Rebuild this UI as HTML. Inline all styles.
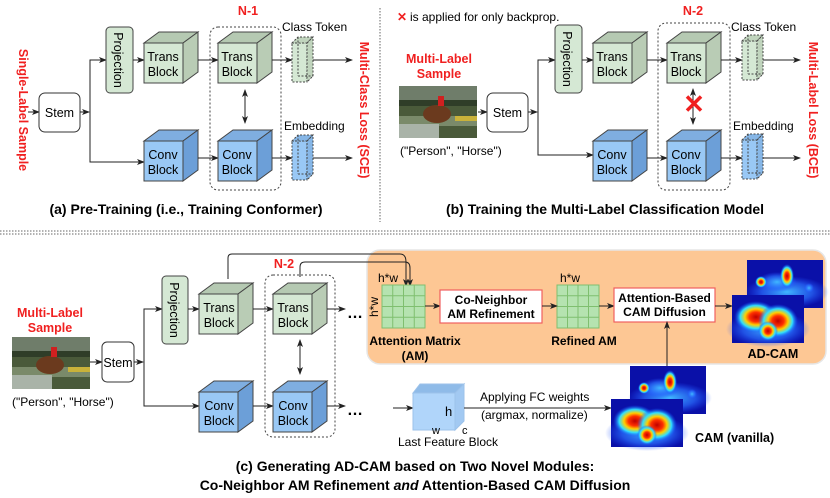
<!DOCTYPE html>
<html><head><meta charset="utf-8"><style>
html,body{margin:0;padding:0;background:#fff;}
svg{display:block;font-family:"Liberation Sans",sans-serif;}
</style></head><body>
<svg width="830" height="498" viewBox="0 0 830 498" xmlns="http://www.w3.org/2000/svg">
<defs>
<marker id="ar" markerWidth="8" markerHeight="8" refX="7" refY="4" orient="auto" markerUnits="userSpaceOnUse"><path d="M0,1 L8,4 L0,7 L2,4 Z" fill="#222"/></marker>
<marker id="ars" markerWidth="8" markerHeight="8" refX="1" refY="4" orient="auto" markerUnits="userSpaceOnUse"><path d="M8,1 L0,4 L8,7 L6,4 Z" fill="#222"/></marker>
<g id="tc"><rect x="0" y="0" width="39" height="40" fill="#d5e8d4" stroke="#444" stroke-width="1"/><polygon points="0,0 15,-11 54,-11 39,0" fill="#b5c9b2" stroke="#444"/><polygon points="39,0 54,-11 54,29 39,40" fill="#b9ccb5" stroke="#444"/></g>
<g id="cc"><rect x="0" y="0" width="39" height="40" fill="#99c8f5" stroke="#444"/><polygon points="0,0 15,-11 54,-11 39,0" fill="#7faee0" stroke="#444"/><polygon points="39,0 54,-11 54,29 39,40" fill="#6c9fd8" stroke="#444"/></g>
<g id="tk"><polygon points="0,6 15,6 15,45 0,45" fill="#d5e8d4" stroke="#444" stroke-dasharray="2,1.5"/><polygon points="0,6 6,0 21,0 15,6" fill="#c0d4bd" stroke="#444" stroke-dasharray="2,1.5"/><polygon points="15,6 21,0 21,39 15,45" fill="#c0d4bd" stroke="#444" stroke-dasharray="2,1.5"/><line x1="6" y1="0" x2="6" y2="39" stroke="#444" stroke-dasharray="2,1.5"/><line x1="6" y1="39" x2="21" y2="39" stroke="#444" stroke-dasharray="2,1.5"/></g>
<g id="ek"><polygon points="0,6 15,6 15,45 0,45" fill="#99c8f5" stroke="#444" stroke-dasharray="2,1.5"/><polygon points="0,6 6,0 21,0 15,6" fill="#86b6e6" stroke="#444" stroke-dasharray="2,1.5"/><polygon points="15,6 21,0 21,39 15,45" fill="#86b6e6" stroke="#444" stroke-dasharray="2,1.5"/><line x1="6" y1="0" x2="6" y2="39" stroke="#444" stroke-dasharray="2,1.5"/><line x1="6" y1="39" x2="21" y2="39" stroke="#444" stroke-dasharray="2,1.5"/></g>
<g id="photo"><rect width="78" height="52" fill="#4a5a3a"/><rect width="78" height="14" fill="#6f7d6a"/><rect y="14" width="78" height="6" fill="#2f3d28"/><rect y="30" width="78" height="10" fill="#7a8a6a"/><rect x="0" y="38" width="40" height="14" fill="#a9b3a8"/><ellipse cx="38" cy="28" rx="14" ry="9" fill="#6b3a1e"/><rect x="39" y="10" width="6" height="10" fill="#d02020"/><rect x="56" y="30" width="22" height="5" fill="#c9b23a"/></g>
<radialGradient id="gr"><stop offset="0" stop-color="#c00000"/><stop offset="0.3" stop-color="#ff3000"/><stop offset="0.5" stop-color="#ffd000"/><stop offset="0.72" stop-color="#30e0ff"/><stop offset="1" stop-color="#1040ff" stop-opacity="0"/></radialGradient>
<radialGradient id="gc"><stop offset="0" stop-color="#40b8ff"/><stop offset="0.6" stop-color="#2a70ff" stop-opacity="0.7"/><stop offset="1" stop-color="#2050ff" stop-opacity="0"/></radialGradient>
<g id="hb"><rect width="76" height="48" fill="#0a10a8"/><ellipse cx="40" cy="32" rx="42" ry="16" fill="url(#gc)"/><ellipse cx="30" cy="22" rx="20" ry="10" fill="url(#gc)"/><circle cx="14" cy="22" r="6" fill="url(#gr)"/><ellipse cx="40" cy="16" rx="7" ry="12" fill="url(#gr)"/><circle cx="62" cy="28" r="5" fill="url(#gc)"/></g>
<g id="hf"><rect width="72" height="48" fill="#0a10a8"/><ellipse cx="36" cy="34" rx="42" ry="18" fill="url(#gc)"/><ellipse cx="24" cy="22" rx="22" ry="16" fill="url(#gr)"/><ellipse cx="46" cy="26" rx="20" ry="17" fill="url(#gr)"/><ellipse cx="36" cy="36" rx="10" ry="10" fill="url(#gr)"/></g>
</defs>

<!-- separators -->
<line x1="380" y1="8" x2="380" y2="222" stroke="#666" stroke-dasharray="1.5,1.5"/>
<line x1="0" y1="231" x2="830" y2="231" stroke="#666" stroke-dasharray="1.5,1.5"/>
<line x1="0" y1="234" x2="830" y2="234" stroke="#666" stroke-dasharray="1.5,1.5"/>

<!-- ===== (a) ===== -->
<text transform="translate(19,110) rotate(90)" text-anchor="middle" font-size="12.5" font-weight="bold" fill="#f02020">Single-Label Sample</text>
<line x1="28" y1="112" x2="39" y2="112" stroke="#222" marker-end="url(#ar)"/>
<rect x="39" y="93" width="41" height="39" rx="6" fill="#fff" stroke="#333"/>
<text x="59.5" y="117" text-anchor="middle" font-size="12.5">Stem</text>
<line x1="80" y1="112" x2="89" y2="112" stroke="#222" marker-end="url(#ar)"/>
<polyline points="106,60 90,60 90,162 144,162" fill="none" stroke="#222"/>
<line x1="90" y1="60" x2="106" y2="60" stroke="#222" marker-end="url(#ar)"/>
<line x1="130" y1="162" x2="144" y2="162" stroke="#222" marker-end="url(#ar)"/>
<rect x="106" y="27" width="27" height="66" rx="4" fill="#d5e8d4" stroke="#444"/>
<text transform="translate(114,60) rotate(90)" text-anchor="middle" font-size="12.5">Projection</text>
<line x1="133" y1="60" x2="144" y2="60" stroke="#222" marker-end="url(#ar)"/>
<use href="#tc" x="144" y="43"/>
<text x="163" y="61" text-anchor="middle" font-size="12.5">Trans</text><text x="163" y="76" text-anchor="middle" font-size="12.5">Block</text>
<rect x="210" y="27" width="71" height="163" rx="8" fill="none" stroke="#444" stroke-dasharray="2,2"/>
<text x="248" y="15" text-anchor="middle" font-size="12.5" font-weight="bold" fill="#f02020">N-1</text>
<line x1="198" y1="60" x2="218" y2="60" stroke="#222" marker-end="url(#ar)"/>
<use href="#tc" x="218" y="43"/>
<text x="237" y="61" text-anchor="middle" font-size="12.5">Trans</text><text x="237" y="76" text-anchor="middle" font-size="12.5">Block</text>
<line x1="245" y1="90" x2="245" y2="123" stroke="#222" marker-start="url(#ars)" marker-end="url(#ar)"/>
<use href="#cc" x="144" y="141"/>
<text x="163" y="159" text-anchor="middle" font-size="12.5">Conv</text><text x="163" y="174" text-anchor="middle" font-size="12.5">Block</text>
<line x1="198" y1="158" x2="218" y2="158" stroke="#222" marker-end="url(#ar)"/>
<use href="#cc" x="218" y="141"/>
<text x="237" y="159" text-anchor="middle" font-size="12.5">Conv</text><text x="237" y="174" text-anchor="middle" font-size="12.5">Block</text>
<line x1="272" y1="60" x2="292" y2="60" stroke="#222" marker-end="url(#ar)"/>
<use href="#tk" x="292" y="37"/>
<text x="282" y="31" font-size="12">Class Token</text>
<line x1="313" y1="60" x2="352" y2="60" stroke="#222" marker-end="url(#ar)"/>
<line x1="272" y1="158" x2="292" y2="158" stroke="#222" marker-end="url(#ar)"/>
<use href="#ek" x="292" y="135"/>
<text x="284" y="130" font-size="12">Embedding</text>
<line x1="313" y1="158" x2="352" y2="158" stroke="#222" marker-end="url(#ar)"/>
<text transform="translate(360,110) rotate(90)" text-anchor="middle" font-size="12.5" font-weight="bold" fill="#f02020">Multi-Class Loss (SCE)</text>
<text x="186" y="214" text-anchor="middle" font-size="14" font-weight="bold">(a) Pre-Training (i.e., Training Conformer)</text>

<!-- ===== (b) ===== -->
<text x="397" y="21" font-size="12" font-weight="bold" fill="#f02020">✕</text>
<text x="410" y="21" font-size="12">is applied for only backprop.</text>
<text x="439" y="63" text-anchor="middle" font-size="12.5" font-weight="bold" fill="#f02020">Multi-Label</text>
<text x="439" y="78" text-anchor="middle" font-size="12.5" font-weight="bold" fill="#f02020">Sample</text>
<use href="#photo" x="399" y="86"/>
<text x="400" y="155" font-size="12">("Person", "Horse")</text>
<line x1="478" y1="112" x2="487" y2="112" stroke="#222" marker-end="url(#ar)"/>
<rect x="487" y="93" width="41" height="39" rx="6" fill="#fff" stroke="#333"/>
<text x="507.5" y="117" text-anchor="middle" font-size="12.5">Stem</text>
<line x1="528" y1="112" x2="537" y2="112" stroke="#222" marker-end="url(#ar)"/>
<polyline points="555,60 538,60 538,155 593,155" fill="none" stroke="#222"/>
<line x1="540" y1="60" x2="555" y2="60" stroke="#222" marker-end="url(#ar)"/>
<line x1="580" y1="155" x2="593" y2="155" stroke="#222" marker-end="url(#ar)"/>
<rect x="555" y="25" width="27" height="68" rx="4" fill="#d5e8d4" stroke="#444"/>
<text transform="translate(563,59) rotate(90)" text-anchor="middle" font-size="12.5">Projection</text>
<line x1="582" y1="60" x2="593" y2="60" stroke="#222" marker-end="url(#ar)"/>
<use href="#tc" x="593" y="43"/>
<text x="612" y="61" text-anchor="middle" font-size="12.5">Trans</text><text x="612" y="76" text-anchor="middle" font-size="12.5">Block</text>
<rect x="658" y="23" width="72" height="167" rx="8" fill="none" stroke="#444" stroke-dasharray="2,2"/>
<text x="693" y="15" text-anchor="middle" font-size="12.5" font-weight="bold" fill="#f02020">N-2</text>
<line x1="647" y1="60" x2="667" y2="60" stroke="#222" marker-end="url(#ar)"/>
<use href="#tc" x="667" y="43"/>
<text x="686" y="61" text-anchor="middle" font-size="12.5">Trans</text><text x="686" y="76" text-anchor="middle" font-size="12.5">Block</text>
<line x1="693" y1="89" x2="693" y2="124" stroke="#222" marker-start="url(#ars)" marker-end="url(#ar)"/>
<text x="694" y="113" text-anchor="middle" font-size="26" font-weight="bold" fill="#f02020">✕</text>
<use href="#cc" x="593" y="141"/>
<text x="612" y="159" text-anchor="middle" font-size="12.5">Conv</text><text x="612" y="174" text-anchor="middle" font-size="12.5">Block</text>
<line x1="647" y1="158" x2="667" y2="158" stroke="#222" marker-end="url(#ar)"/>
<use href="#cc" x="667" y="141"/>
<text x="686" y="159" text-anchor="middle" font-size="12.5">Conv</text><text x="686" y="174" text-anchor="middle" font-size="12.5">Block</text>
<line x1="721" y1="60" x2="742" y2="60" stroke="#222" marker-end="url(#ar)"/>
<use href="#tk" x="742" y="35"/>
<text x="731" y="31" font-size="12">Class Token</text>
<line x1="763" y1="60" x2="800" y2="60" stroke="#222" marker-end="url(#ar)"/>
<line x1="721" y1="158" x2="742" y2="158" stroke="#222" marker-end="url(#ar)"/>
<use href="#ek" x="742" y="134"/>
<text x="733" y="130" font-size="12">Embedding</text>
<line x1="763" y1="158" x2="800" y2="158" stroke="#222" marker-end="url(#ar)"/>
<text transform="translate(809,110) rotate(90)" text-anchor="middle" font-size="12.5" font-weight="bold" fill="#f02020">Multi-Label Loss (BCE)</text>
<text x="605" y="214" text-anchor="middle" font-size="14" font-weight="bold">(b) Training the Multi-Label Classification Model</text>

<!-- ===== (c) ===== -->
<rect x="367" y="250" width="459" height="114" rx="13" fill="#fdc794" stroke="#e6e6e6" stroke-width="1.5"/>
<text x="50" y="317" text-anchor="middle" font-size="12.5" font-weight="bold" fill="#f02020">Multi-Label</text>
<text x="50" y="332" text-anchor="middle" font-size="12.5" font-weight="bold" fill="#f02020">Sample</text>
<use href="#photo" x="12" y="337"/>
<text x="12" y="406" font-size="12">("Person", "Horse")</text>
<line x1="90" y1="362" x2="102" y2="362" stroke="#222" marker-end="url(#ar)"/>
<rect x="102" y="342" width="32" height="40" rx="5" fill="#fff" stroke="#333"/>
<text x="118" y="367" text-anchor="middle" font-size="12.5">Stem</text>
<line x1="134" y1="362" x2="143" y2="362" stroke="#222" marker-end="url(#ar)"/>
<polyline points="162,309 144,309 144,406 199,406" fill="none" stroke="#222"/>
<line x1="146" y1="309" x2="162" y2="309" stroke="#222" marker-end="url(#ar)"/>
<line x1="186" y1="406" x2="199" y2="406" stroke="#222" marker-end="url(#ar)"/>
<rect x="162" y="276" width="26" height="68" rx="4" fill="#d5e8d4" stroke="#444"/>
<text transform="translate(170,310) rotate(90)" text-anchor="middle" font-size="12.5">Projection</text>
<line x1="188" y1="309" x2="199" y2="309" stroke="#222" marker-end="url(#ar)"/>
<use href="#tc" x="199" y="294"/>
<text x="219" y="312" text-anchor="middle" font-size="12.5">Trans</text><text x="219" y="327" text-anchor="middle" font-size="12.5">Block</text>
<rect x="265" y="275" width="70" height="162" rx="8" fill="none" stroke="#444" stroke-dasharray="2,2"/>
<text x="284" y="268" text-anchor="middle" font-size="12.5" font-weight="bold" fill="#f02020">N-2</text>
<line x1="253" y1="309" x2="273" y2="309" stroke="#222" marker-end="url(#ar)"/>
<use href="#tc" x="273" y="294"/>
<text x="293" y="312" text-anchor="middle" font-size="12.5">Trans</text><text x="293" y="327" text-anchor="middle" font-size="12.5">Block</text>
<line x1="300" y1="340" x2="300" y2="374" stroke="#222" marker-start="url(#ars)" marker-end="url(#ar)"/>
<use href="#cc" x="199" y="392"/>
<text x="219" y="410" text-anchor="middle" font-size="12.5">Conv</text><text x="219" y="425" text-anchor="middle" font-size="12.5">Block</text>
<line x1="253" y1="406" x2="273" y2="406" stroke="#222" marker-end="url(#ar)"/>
<use href="#cc" x="273" y="392"/>
<text x="293" y="410" text-anchor="middle" font-size="12.5">Conv</text><text x="293" y="425" text-anchor="middle" font-size="12.5">Block</text>
<!-- feedback lines -->
<path d="M228,279 L228,258 Q228,254 232,254 L400,254 Q406,254 406,262 L406,286" fill="none" stroke="#222" marker-end="url(#ar)"/>
<path d="M300,277 L300,267 Q300,262 305,262 L405,262 Q410,262 410,268 L410,286" fill="none" stroke="#222" marker-end="url(#ar)"/>
<line x1="327" y1="309" x2="345" y2="309" stroke="#222" marker-end="url(#ar)"/>
<text x="347" y="318" font-size="16" font-weight="bold" letter-spacing="1">…</text>
<line x1="327" y1="406" x2="345" y2="406" stroke="#222" marker-end="url(#ar)"/>
<text x="347" y="415" font-size="16" font-weight="bold" letter-spacing="1">…</text>
<!-- AM grid -->
<g stroke="#7fbf6f" stroke-width="1">
<rect x="382" y="285" width="43" height="43" fill="#b5e3b0"/>
<line x1="392.75" y1="285" x2="392.75" y2="328"/><line x1="403.5" y1="285" x2="403.5" y2="328"/><line x1="414.25" y1="285" x2="414.25" y2="328"/>
<line x1="382" y1="295.75" x2="425" y2="295.75"/><line x1="382" y1="306.5" x2="425" y2="306.5"/><line x1="382" y1="317.25" x2="425" y2="317.25"/>
<rect x="557" y="285" width="42" height="43" fill="#b5e3b0"/>
<line x1="567.5" y1="285" x2="567.5" y2="328"/><line x1="578" y1="285" x2="578" y2="328"/><line x1="588.5" y1="285" x2="588.5" y2="328"/>
<line x1="557" y1="295.75" x2="599" y2="295.75"/><line x1="557" y1="306.5" x2="599" y2="306.5"/><line x1="557" y1="317.25" x2="599" y2="317.25"/>
</g>
<text x="378" y="282" font-size="12">h*w</text>
<text transform="translate(378,307) rotate(-90)" text-anchor="middle" font-size="12">h*w</text>
<text x="560" y="282" font-size="12">h*w</text>
<text x="415" y="345" text-anchor="middle" font-size="12" font-weight="bold">Attention Matrix</text>
<text x="415" y="360" text-anchor="middle" font-size="12" font-weight="bold">(AM)</text>
<text x="584" y="345" text-anchor="middle" font-size="12" font-weight="bold">Refined AM</text>
<line x1="425" y1="306" x2="440" y2="306" stroke="#222" marker-end="url(#ar)"/>
<rect x="440" y="290" width="102" height="33" fill="#fff" stroke="#f06060" stroke-width="1.2"/>
<text x="491" y="304" text-anchor="middle" font-size="12" font-weight="bold">Co-Neighbor</text>
<text x="491" y="318" text-anchor="middle" font-size="12" font-weight="bold">AM Refinement</text>
<line x1="542" y1="306" x2="557" y2="306" stroke="#222" marker-end="url(#ar)"/>
<line x1="599" y1="306" x2="614" y2="306" stroke="#222" marker-end="url(#ar)"/>
<rect x="614" y="288" width="101" height="34" fill="#fff" stroke="#f06060" stroke-width="1.2"/>
<text x="664.5" y="302" text-anchor="middle" font-size="12" font-weight="bold">Attention-Based</text>
<text x="664.5" y="316" text-anchor="middle" font-size="12" font-weight="bold">CAM Diffusion</text>
<line x1="715" y1="306" x2="732" y2="306" stroke="#222" marker-end="url(#ar)"/>
<use href="#hb" x="747" y="260"/>
<use href="#hf" x="732" y="295"/>
<text x="773" y="358" text-anchor="middle" font-size="12.5" font-weight="bold">AD-CAM</text>
<line x1="667" y1="366" x2="667" y2="322" stroke="#222" marker-end="url(#ar)"/>
<!-- last feature block -->
<line x1="393" y1="408" x2="413" y2="408" stroke="#222" marker-end="url(#ar)"/>
<rect x="413" y="393" width="42" height="37" fill="#b0d5fa" stroke="#9cc2ea"/>
<polygon points="413,393 420,384 464,384 455,393" fill="#8fbbe8" stroke="#9cc2ea"/>
<polygon points="455,393 464,384 464,421 455,430" fill="#a2c9f2" stroke="#9cc2ea"/>
<text x="445" y="416" font-size="13">h</text>
<text x="432" y="434" font-size="11">w</text>
<text x="462" y="434" font-size="11">c</text>
<text x="448" y="446" text-anchor="middle" font-size="12">Last Feature Block</text>
<line x1="464" y1="408" x2="611" y2="408" stroke="#222" marker-end="url(#ar)"/>
<text x="480" y="401" font-size="12">Applying FC weights</text>
<text x="481" y="419" font-size="12">(argmax, normalize)</text>
<use href="#hb" x="630" y="366"/>
<use href="#hf" x="611" y="399"/>
<text x="695" y="442" font-size="12.5" font-weight="bold">CAM (vanilla)</text>
<text x="415" y="471" text-anchor="middle" font-size="14" font-weight="bold">(c) Generating AD-CAM based on Two Novel Modules:</text>
<text x="415" y="490" text-anchor="middle" font-size="14" font-weight="bold">Co-Neighbor AM Refinement <tspan font-style="italic">and</tspan> Attention-Based CAM Diffusion</text>
</svg>
</body></html>
